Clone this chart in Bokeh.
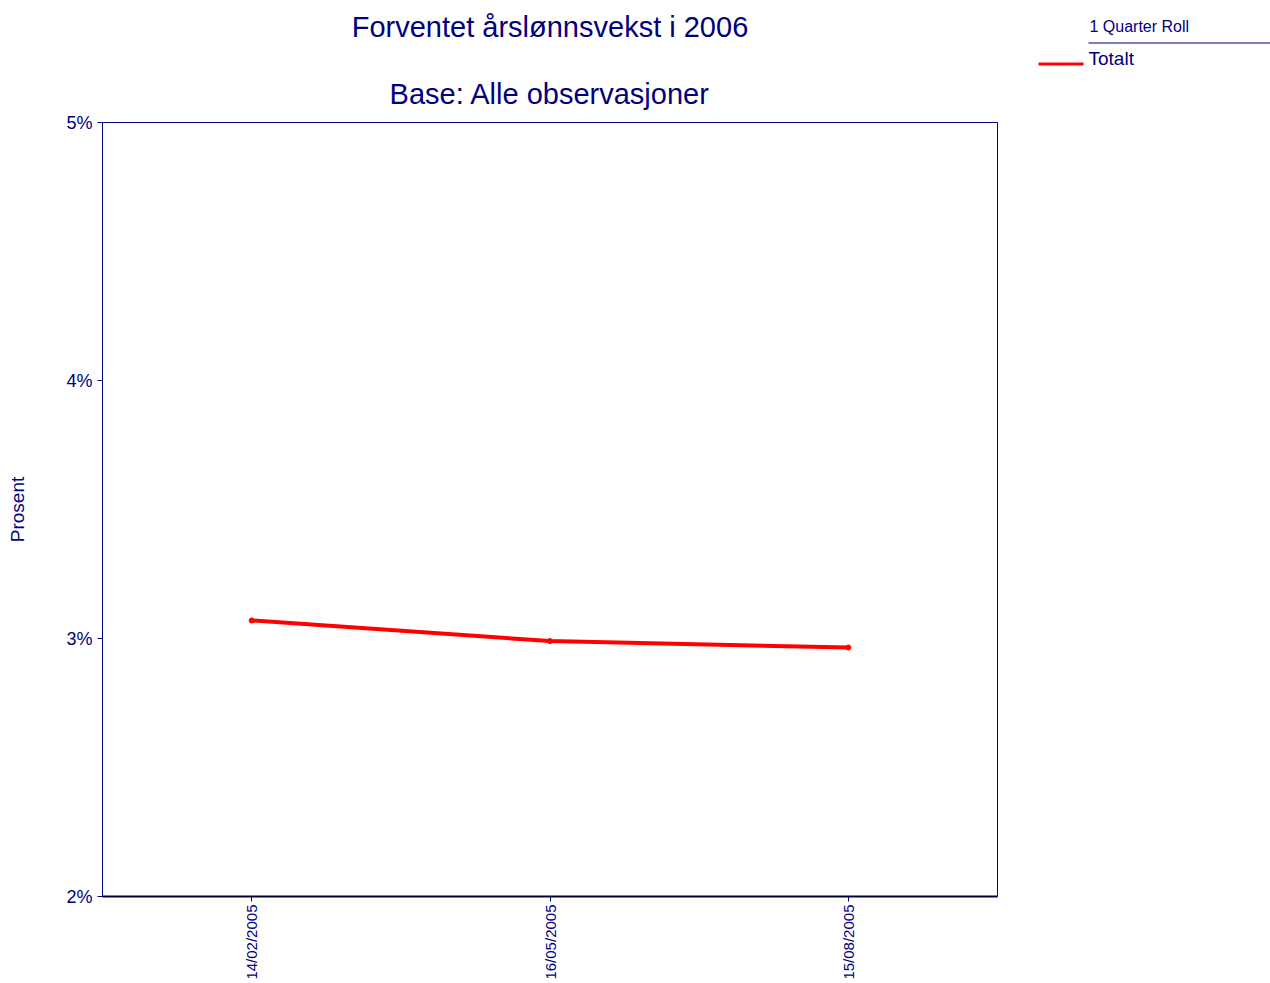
from bokeh.plotting import figure
from bokeh.models import FactorRange, Range1d, FixedTicker, PrintfTickFormatter, Label
from bokeh.embed import file_html
from bokeh.resources import INLINE
import math

dates = ["14/02/2005", "16/05/2005", "15/08/2005"]
totalt = [3.07, 2.99, 2.965]
y_ticks = [2, 3, 4, 5]
series_name = "Totalt"
legend_title = "1 Quarter Roll"
title_main = "Forventet årslønnsvekst i 2006"
title_sub = "Base: Alle observasjoner"

NAVY = "#000080"
RED = "#ff0000"
FONT = "Liberation Sans"

p = figure(x_range=FactorRange(*dates), y_range=Range1d(2, 5),
           frame_width=895, frame_height=774,
           min_border_left=102, min_border_right=273, min_border_top=122, min_border_bottom=87,
           output_backend="svg", toolbar_location=None, title_location=None)

p.outline_line_color = NAVY
p.outline_line_width = 1
p.xgrid.visible = False
p.ygrid.visible = False

p.line(x=dates, y=totalt, line_color=RED, line_width=4, line_cap="round")
p.scatter(x=dates, y=totalt, size=5, color=RED)

ya = p.yaxis[0]
ya.ticker = FixedTicker(ticks=y_ticks, minor_ticks=[])
ya.formatter = PrintfTickFormatter(format="%d%%")
ya.axis_line_color = NAVY
ya.major_tick_line_color = NAVY
ya.major_tick_out = 5
ya.major_tick_in = 0
ya.minor_tick_line_color = None
ya.major_label_text_font = FONT
ya.major_label_text_font_size = "18px"
ya.major_label_text_color = NAVY
ya.major_label_standoff = 5
ya.axis_label = "Prosent"
ya.axis_label_text_font = FONT
ya.axis_label_text_font_size = "19px"
ya.axis_label_text_font_style = "normal"
ya.axis_label_text_color = NAVY
ya.axis_label_standoff = 35

xa = p.xaxis[0]
xa.axis_line_color = "#000030"
xa.axis_line_width = 2
xa.major_tick_line_color = NAVY
xa.major_tick_out = 5
xa.major_tick_in = 0
xa.minor_tick_line_color = None
xa.major_label_orientation = math.pi / 2
xa.major_label_text_font = FONT
xa.major_label_text_font_size = "15px"
xa.major_label_text_color = NAVY
xa.major_label_standoff = 3


def text_label(x, y, text, size, align="left"):
    return Label(x=x, y=y, x_units="screen", y_units="screen", text=text,
                 text_align=align, text_baseline="alphabetic", text_font=FONT,
                 text_font_size=size, text_color=NAVY)


def bar_label(x, y, size, half_width, color):
    # a thin filled box: the padded background of a tiny same-coloured mark
    return Label(x=x, y=y, x_units="screen", y_units="screen", text=".",
                 text_align="left", text_baseline="alphabetic", text_font=FONT,
                 text_font_size=size, text_color=color, text_alpha=1,
                 background_fill_color=color, background_fill_alpha=1,
                 padding=dict(left=half_width, right=half_width, top=0, bottom=0))


# ---- above panel, stacked from the frame outward ----
p.add_layout(text_label(447.5, 28.7, title_sub, "29px", "center"), "above")
p.add_layout(text_label(447.5, 63.6, title_main, "29px", "center"), "above")
p.add_layout(bar_label(986, 15.5, "1px", 91, NAVY), "above")      # legend underline
p.add_layout(bar_label(936, -6.5, "4px", 22, RED), "above")        # legend line sample

# ---- right panel, stacked from the frame outward ----
p.add_layout(text_label(92, 870, legend_title, "16px"), "right")
p.add_layout(text_label(-9, 837.6, series_name, "19px"), "right")

open("out.html", "w").write(file_html(p, INLINE))
